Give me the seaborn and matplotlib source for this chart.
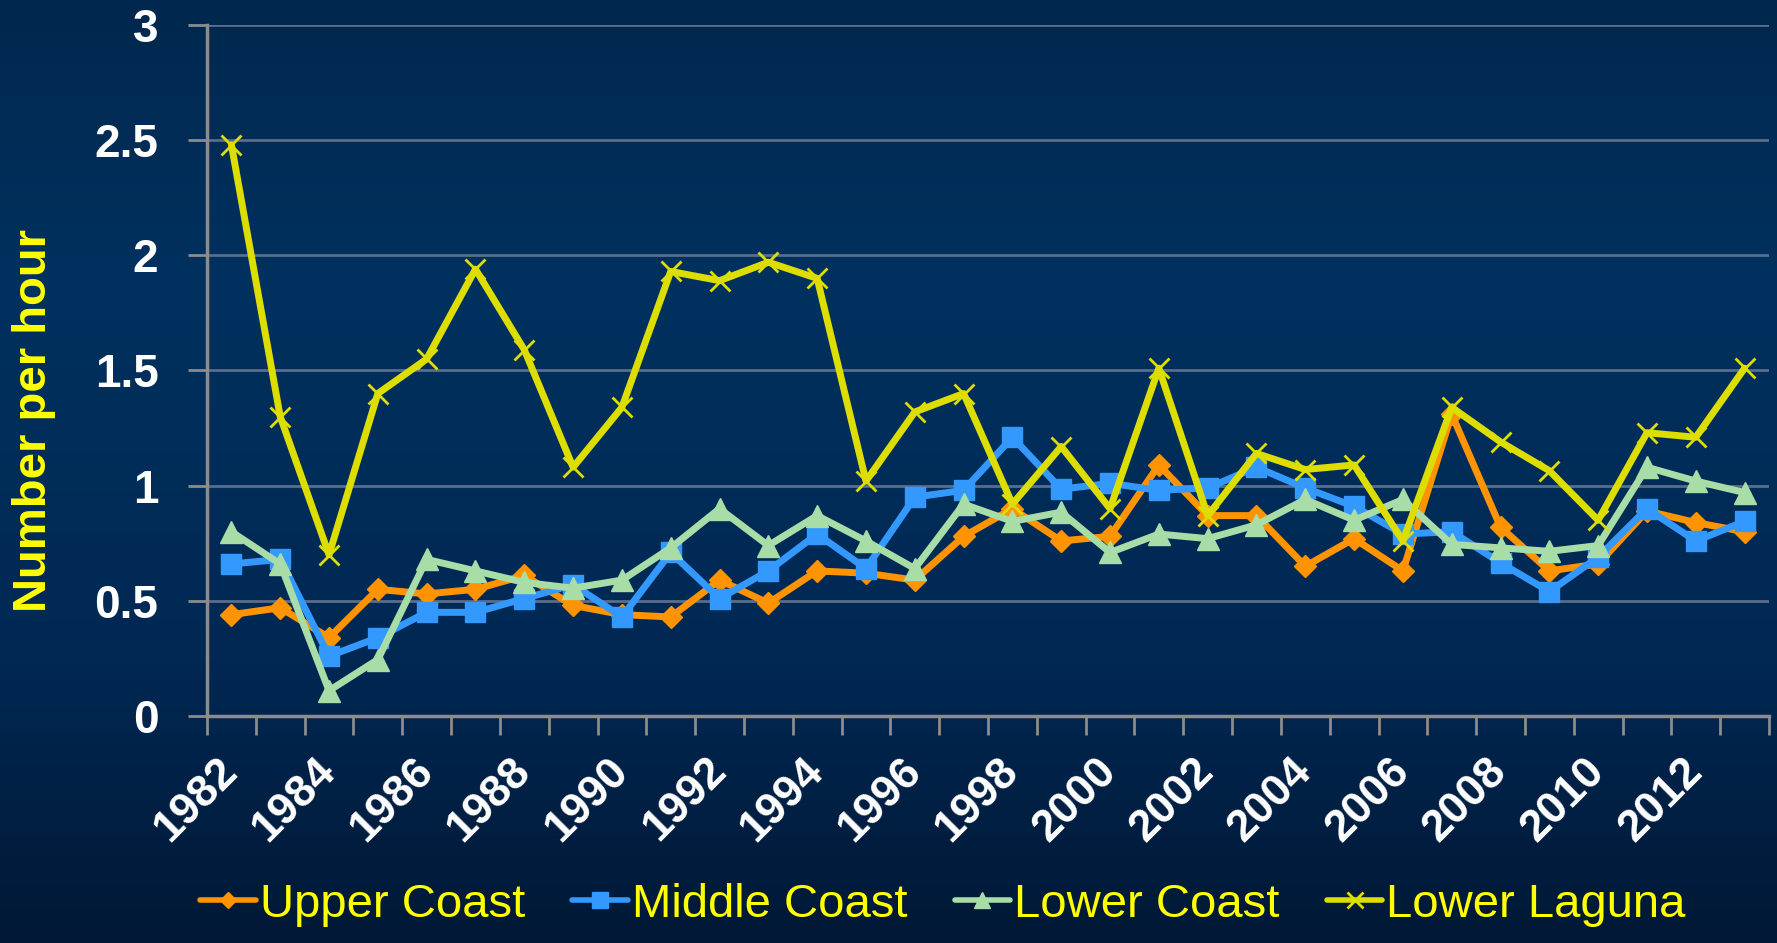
import numpy as np
import pandas as pd
import matplotlib
matplotlib.use("Agg")
import matplotlib.pyplot as plt
import seaborn as sns
from matplotlib.lines import Line2D
from matplotlib.colors import to_rgb

# Data (number per hour)
years = list(range(1982, 2014))
upper_coast = [0.44, 0.47, 0.34, 0.55, 0.53, 0.55, 0.61, 0.48, 0.44, 0.43, 0.59, 0.49,
               0.63, 0.62, 0.59, 0.78, 0.90, 0.76, 0.78, 1.09, 0.87, 0.87, 0.65,
               0.77, 0.63, 1.31, 0.82, 0.63, 0.66, 0.89, 0.84, 0.80]
middle_coast = [0.66, 0.68, 0.26, 0.34, 0.45, 0.45, 0.51, 0.57, 0.43, 0.71, 0.51, 0.63,
                0.79, 0.64, 0.95, 0.98, 1.21, 0.985, 1.01, 0.98, 0.99, 1.08, 0.99,
                0.91, 0.79, 0.80, 0.665, 0.54, 0.69, 0.90, 0.76, 0.845]
lower_coast = [0.80, 0.66, 0.11, 0.245, 0.68, 0.63, 0.58, 0.555, 0.59, 0.73, 0.90, 0.74,
               0.87, 0.76, 0.64, 0.92, 0.845, 0.885, 0.71, 0.79, 0.77, 0.83, 0.94,
               0.85, 0.94, 0.745, 0.73, 0.715, 0.74, 1.08, 1.02, 0.97]
lower_laguna = [2.48, 1.30, 0.70, 1.40, 1.55, 1.94, 1.59, 1.08, 1.34, 1.93, 1.89, 1.97,
                1.90, 1.02, 1.32, 1.40, 0.92, 1.17, 0.90, 1.51, 0.87, 1.14, 1.07,
                1.09, 0.76, 1.34, 1.19, 1.065, 0.85, 1.23, 1.21, 1.51]
series_names = ["Upper Coast", "Middle Coast", "Lower Coast", "Lower Laguna"]
y_ticks = [0, 0.5, 1, 1.5, 2, 2.5, 3]
y_tick_labels = ["0", "0.5", "1", "1.5", "2", "2.5", "3"]

df = pd.DataFrame({"pos": np.arange(len(years)), "year": years,
                   "Upper Coast": upper_coast, "Middle Coast": middle_coast,
                   "Lower Coast": lower_coast, "Lower Laguna": lower_laguna})

sns.set_style("dark")
plt.rcParams["font.family"] = ["Liberation Sans", "DejaVu Sans"]

W, H = 1777, 943
fig = plt.figure(figsize=(W / 100, H / 100), dpi=100)

# dark blue vertical gradient background
stops = [(0.0, "#00284e"), (0.3, "#00315f"), (0.7, "#002853"), (1.0, "#001835")]
t = np.linspace(0, 1, 400)
grad = np.zeros((400, 1, 3))
for c in range(3):
    grad[:, 0, c] = np.interp(t, [s[0] for s in stops], [to_rgb(s[1])[c] for s in stops])
bg = fig.add_axes([0, 0, 1, 1], zorder=-10)
bg.imshow(grad, aspect="auto", extent=[0, 1, 0, 1])
bg.axis("off")

x0, x1, ytop, ybot = 207, 1769, 25, 716
ax = fig.add_axes([x0 / W, 1 - ybot / H, (x1 - x0) / W, (ybot - ytop) / H])
ax.set_facecolor("none")

styles = {
    "Upper Coast": dict(color="#FF9400", marker="D", markersize=11.5, mew=1),
    "Middle Coast": dict(color="#3399FF", marker="s", markersize=15, mew=1),
    "Lower Coast": dict(color="#A8DDA8", marker="^", markersize=16, mew=1),
    "Lower Laguna": dict(color="#DDDD00", marker="x", markersize=15, mew=2),
}
for name in series_names:
    st = styles[name]
    sns.lineplot(data=df, x="pos", y=name, ax=ax, color=st["color"], linewidth=5,
                 marker=st["marker"], markersize=st["markersize"],
                 markeredgecolor=st["color"], markeredgewidth=st["mew"], legend=False)

ax.set_xlim(-0.5, len(years) - 0.5)
ax.set_ylim(0, 3)
ax.set_xlabel("")
ax.set_ylabel("")

grid_col = "#5a6d8a"
axis_col = "#8c8c8c"
ax.set_yticks(y_ticks)
ax.set_yticklabels(y_tick_labels)
ax.yaxis.grid(True, color=grid_col, linewidth=2)
ax.xaxis.grid(False)
ax.set_axisbelow(True)

ax.set_xticks(np.arange(0, len(years), 2))
ax.set_xticklabels([str(y) for y in years[::2]], rotation=45, ha="right",
                   va="center", rotation_mode="anchor")
ax.set_xticks(np.arange(-0.5, len(years), 1), minor=True)
ax.tick_params(axis="x", which="major", length=0, pad=35, labelsize=32,
               labelcolor="white")
ax.tick_params(axis="x", which="minor", length=14, width=2, color=axis_col,
               direction="out", bottom=True)
ax.tick_params(axis="y", length=14, width=2, color=axis_col, direction="out",
               pad=21, labelsize=33, labelcolor="white", left=True)
for lab in ax.get_xticklabels() + ax.get_yticklabels():
    lab.set_fontweight("bold")

for s in ["top", "right"]:
    ax.spines[s].set_visible(False)
for s in ["left", "bottom"]:
    ax.spines[s].set_color(axis_col)
    ax.spines[s].set_linewidth(2.5)

fig.text(34 / W, 1 - 420 / H, "Number per hour", rotation=90, ha="center",
         va="center", color="#FFFF00", fontsize=34, fontweight="bold")

handles = [Line2D([], [], color=styles[n]["color"], lw=4, marker=styles[n]["marker"],
                  markersize=styles[n]["markersize"] * 0.75,
                  markeredgecolor=styles[n]["color"], markeredgewidth=styles[n]["mew"])
           for n in series_names]
fig.legend(handles, series_names, loc="center", bbox_to_anchor=(943 / W, 1 - 905 / H),
           ncol=4, frameon=False, fontsize=34, handlelength=1.18, handletextpad=0.08,
           columnspacing=1.0, labelcolor="#FFFF00", borderaxespad=0)

fig.savefig("out.png", dpi=100)
